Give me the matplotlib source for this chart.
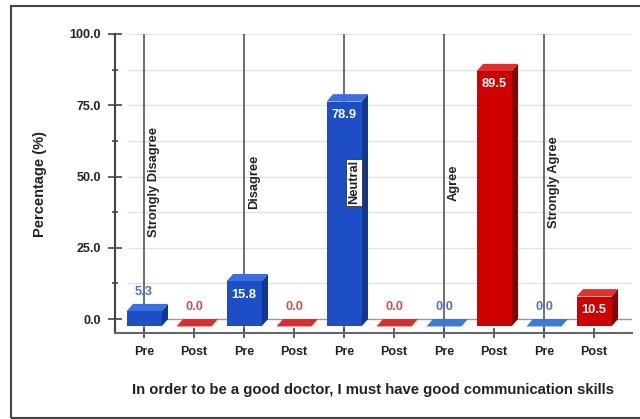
import numpy as np
import matplotlib
matplotlib.use("Agg")
import matplotlib.pyplot as plt
from matplotlib.patches import Polygon, Rectangle
from matplotlib.ticker import MultipleLocator

plt.rcParams["font.family"] = ["Liberation Sans", "DejaVu Sans"]
plt.rcParams["font.weight"] = "bold"

# Survey answers, before and after
responses = ["Strongly Disagree", "Disagree", "Neutral", "Agree", "Strongly Agree"]
pre = [5.3, 15.8, 78.9, 0.0, 0.0]
post = [0.0, 0.0, 0.0, 89.5, 10.5]
phases = ["Pre", "Post"]
xlabel = "In order to be a good doctor, I must have good communication skills"

# pseudo-3D box geometry (data units)
bar_w = 0.7
dx, dy = 0.13, 2.6

blue = {"front": "#1d4ec6", "top": "#3c6ee0", "side": "#0f3794",
        "flat": "#3a7ad8", "text": "#4a6fd6"}
red = {"front": "#cf0000", "top": "#e2302c", "side": "#8c0000",
       "flat": "#dc2c2c", "text": "#d24e4c"}

fig = plt.figure(figsize=(6.4, 4.19), dpi=100)
ax = fig.add_axes([115 / 640, 86 / 419, 517 / 640, 299 / 419])
ax.set_xlim(-0.58, 9.76)
ax.set_ylim(-4.9, 100)

# back-wall grid
for g in np.arange(0, 100.1, 12.5):
    ax.hlines(g, -0.34, 9.76, color="#999999" if g == 0 else "#e2e2e2",
              lw=1.0, zorder=0)

values, colors = [], []
for p, q in zip(pre, post):
    values += [p, q]
    colors += [blue, red]
xs = np.arange(len(values))

# separators between response groups
for i, name in enumerate(responses):
    c = xs[2 * i]
    ax.vlines(c, -4.9, 100, color="#555555", lw=1.2, zorder=1)
    kw = {}
    if name == "Neutral":
        kw["bbox"] = dict(boxstyle="square,pad=0.12", fc="white",
                          ec="#333333", lw=0.6)
    ax.text(c + 0.2, 48, name, rotation=90, ha="center", va="center",
            fontsize=9.3, color="#222222", zorder=6, **kw)


def box3d(c, v, col):
    x0, x1 = c - bar_w / 2, c + bar_w / 2
    top = [(x0, v - dy), (x1, v - dy), (x1 + dx, v), (x0 + dx, v)]
    if v == 0:
        ax.add_patch(Polygon(top, closed=True, fc=col["flat"], ec="none", zorder=3))
        return
    front = [(x0, -dy), (x1, -dy), (x1, v - dy), (x0, v - dy)]
    side = [(x1, -dy), (x1 + dx, 0), (x1 + dx, v), (x1, v - dy)]
    ax.add_patch(Polygon(side, closed=True, fc=col["side"], ec="none", zorder=3))
    ax.add_patch(Polygon(top, closed=True, fc=col["top"], ec="none", zorder=3))
    ax.add_patch(Polygon(front, closed=True, fc=col["front"], ec="none", zorder=3))


for c, v, col in zip(xs, values, colors):
    box3d(c, v, col)
    if v >= 10:
        ax.text(c, v - dy - 4.6, f"{v:.1f}", ha="center", va="center",
                fontsize=9.3, color="white", zorder=5)
    else:
        ax.text(c, v + 4.2, f"{v:.1f}", ha="center", va="center",
                fontsize=9.3, color=col["text"], zorder=5)

for s in ["top", "right"]:
    ax.spines[s].set_visible(False)
ax.spines["left"].set_color("#444444")
ax.spines["left"].set_linewidth(1.5)
ax.spines["left"].set_bounds(-4.9, 100)
ax.spines["bottom"].set_color("#666666")
ax.spines["bottom"].set_linewidth(1.5)

ax.set_xticks(xs)
ax.set_xticklabels(phases * len(responses))
ax.yaxis.set_major_locator(MultipleLocator(25))
ax.yaxis.set_minor_locator(MultipleLocator(12.5))
ax.yaxis.set_major_formatter(lambda v, pos: f"{v:.1f}")
ax.tick_params(axis="y", which="major", direction="inout", length=10,
               width=1.2, color="#444444", pad=5, labelsize=9,
               labelcolor="#222222")
ax.tick_params(axis="y", which="minor", direction="inout", length=5,
               width=1.2, color="#444444")
ax.tick_params(axis="x", direction="inout", length=7, width=1.2,
               color="#444444", pad=6, labelsize=9, labelcolor="#222222")

fig.text(40 / 640, 1 - 184 / 419, "Percentage (%)", rotation=90,
         ha="center", va="center", fontsize=10.5, color="#222222")
fig.text(373 / 640, 1 - 390 / 419, xlabel, ha="center", va="center",
         fontsize=10.7, color="#222222")

# outer frame
fig.patches.append(Rectangle((11 / 640, 1 / 419), 640 / 640, 412 / 419,
                             transform=fig.transFigure, fill=False,
                             ec="#444444", lw=1.5))

fig.savefig("out.png", dpi=100)
